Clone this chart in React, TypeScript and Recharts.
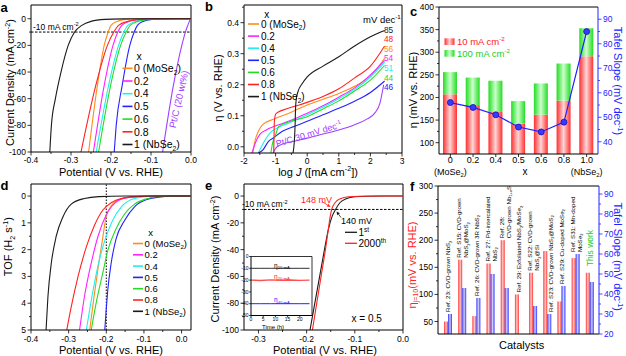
import React from 'react';
import { LineChart, Line, XAxis, YAxis, ReferenceLine, ComposedChart, Bar } from 'recharts';

const FONT = "'Liberation Sans', Arial, Helvetica, sans-serif";
const ORANGE = '#ff8c1a', MAGENTA = '#ff22ff', CYAN = '#22eeee', BLUE = '#2222ff', GREEN = '#22dd22', RED = '#ff2222', BLACK = '#1a1a1a', PURPLE = '#a040ff';

// ---------- shared categories ----------
const compositions = ['0 (MoSe_{2})', '0.2', '0.4', '0.5', '0.6', '0.8', '1 (NbSe_{2})'];
const compColors = [ORANGE, MAGENTA, CYAN, BLUE, GREEN, RED, BLACK];

// ---------- panel a : LSV  [potential V, j mA cm-2] ----------
const aMoSe2 = [[-0.256, -100], [-0.234, -50], [-0.217, -20], [-0.207, -10], [-0.2, -5], [-0.185, -2], [-0.163, -0.5], [-0.13, -0.1], [-0.1, 0], [0, 0]];
const aX02 = [[-0.244, -100], [-0.217, -50], [-0.195, -20], [-0.183, -10], [-0.173, -5], [-0.155, -2], [-0.125, -0.5], [-0.09, -0.1], [-0.05, 0], [0, 0]];
const aX04 = [[-0.237, -100], [-0.206, -50], [-0.181, -20], [-0.168, -10], [-0.158, -5], [-0.138, -2], [-0.108, -0.5], [-0.075, -0.1], [-0.04, 0], [0, 0]];
const aX05 = [[-0.192, -100], [-0.187, -80], [-0.172, -50], [-0.153, -20], [-0.142, -10], [-0.134, -5], [-0.12, -2], [-0.098, -0.5], [-0.07, -0.1], [-0.04, 0], [0, 0]];
const aX06 = [[-0.231, -100], [-0.201, -50], [-0.176, -20], [-0.162, -10], [-0.152, -5], [-0.132, -2], [-0.102, -0.5], [-0.07, -0.1], [-0.035, 0], [0, 0]];
const aX08 = [[-0.275, -100], [-0.238, -50], [-0.209, -20], [-0.193, -10], [-0.181, -5], [-0.158, -2], [-0.125, -0.5], [-0.09, -0.1], [-0.05, 0], [0, 0]];
const aNbSe2 = [[-0.353, -100], [-0.349, -80], [-0.339, -60], [-0.325, -40], [-0.307, -20], [-0.291, -10], [-0.273, -5], [-0.25, -2], [-0.215, -0.5], [-0.17, -0.1], [-0.12, 0], [0, 0]];
const aPtC = [[-0.071, -100], [-0.044, -50], [-0.023, -20], [-0.014, -10], [-0.008, -5], [-0.004, -2], [-0.0015, -0.4], [0, 0]];
const aSeries = [aMoSe2, aX02, aX04, aX05, aX06, aX08, aNbSe2];

// ---------- panel b : Tafel [log J, eta V] ----------
const bMoSe2 = [[-1.72, -0.02], [-1.65, 0.02], [-1.55, 0.049], [-1.4, 0.072], [-1.07, 0.089], [-0.54, 0.11], [0, 0.135], [0.5, 0.153], [1.0, 0.172], [1.5, 0.195], [2.0, 0.228], [2.45, 0.285]];
const bX02 = [[-1.75, -0.02], [-1.65, 0.01], [-1.5, 0.04], [-1.28, 0.055], [-0.76, 0.076], [-0.4, 0.09], [0, 0.108], [0.5, 0.132], [1.0, 0.16], [1.5, 0.19], [2.0, 0.232], [2.45, 0.278]];
const bX04 = [[-1.55, -0.02], [-1.4, 0.01], [-1.18, 0.044], [-0.86, 0.065], [-0.5, 0.08], [0, 0.103], [0.5, 0.128], [1.0, 0.155], [1.5, 0.185], [2.0, 0.225], [2.45, 0.272]];
const bX05 = [[-1.55, -0.02], [-1.4, -0.01], [-1.23, 0.017], [-1.05, 0.03], [-0.8, 0.049], [-0.4, 0.066], [0, 0.082], [0.5, 0.103], [1.0, 0.124], [1.5, 0.147], [2.0, 0.175], [2.45, 0.212]];
const bX06 = [[-1.15, -0.02], [-1.1, 0.01], [-1.0, 0.039], [-0.9, 0.065], [-0.6, 0.08], [0, 0.097], [0.5, 0.122], [1.0, 0.148], [1.5, 0.18], [2.0, 0.215], [2.45, 0.262]];
const bX08 = [[-1.06, -0.02], [-1.05, 0.03], [-1.04, 0.08], [-1.0, 0.105], [-0.9, 0.113], [-0.75, 0.119], [-0.25, 0.135], [0.5, 0.162], [1.0, 0.187], [1.5, 0.222], [2.0, 0.26], [2.45, 0.325]];
const bNbSe2 = [[-0.45, -0.02], [-0.4, 0.03], [-0.38, 0.08], [-0.37, 0.12], [-0.35, 0.15], [-0.3, 0.175], [-0.15, 0.205], [0, 0.225], [0.5, 0.26], [1.0, 0.29], [1.5, 0.325], [2.0, 0.355], [2.45, 0.375]];
const bPtC = [[-1.08, -0.02], [-1.0, -0.005], [-0.85, 0.006], [-0.5, 0.016], [0, 0.028], [0.5, 0.041], [1.0, 0.054], [1.5, 0.071], [1.9, 0.09], [2.15, 0.11], [2.3, 0.14], [2.42, 0.2]];
const bSeries = [bMoSe2, bX02, bX04, bX05, bX06, bX08, bNbSe2];
const bSlopeOrder = [6, 5, 0, 1, 2, 4, 3];

// ---------- panel c : overpotentials & Tafel slopes ----------
const cX = ['0', '0.2', '0.4', '0.5', '0.6', '0.8', '1.0'];
const cXSub = ['(MoSe_{2})', '', '', '', '', '', '(NbSe_{2})'];
const cEta10 = [207, 183, 168, 142, 162, 193, 291];
const cEta100 = [256, 244, 237, 192, 231, 275, 353];
const cTafel = [56, 54, 51, 46, 44, 48, 85];

// ---------- panel d : TOF [potential V, TOF H2 s-1] ----------
const dMoSe2 = [[-0.244, 5], [-0.233, 3.8], [-0.222, 2.7], [-0.211, 1.7], [-0.2, 0.75], [-0.185, 0.33], [-0.16, 0.1], [-0.12, 0.02], [-0.08, 0], [0.025, 0]];
const dX02 = [[-0.271, 5], [-0.258, 3.75], [-0.24, 2.5], [-0.222, 1.5], [-0.2, 0.7], [-0.178, 0.27], [-0.143, 0.05], [-0.1, 0.01], [-0.06, 0], [0.025, 0]];
const dX04 = [[-0.253, 5], [-0.24, 3.9], [-0.222, 2.6], [-0.205, 1.7], [-0.183, 0.9], [-0.16, 0.4], [-0.125, 0.09], [-0.08, 0.01], [-0.04, 0], [0.025, 0]];
const dX05 = [[-0.204, 5], [-0.2, 4.2], [-0.196, 3.5], [-0.187, 2.5], [-0.174, 1.6], [-0.151, 0.9], [-0.125, 0.4], [-0.09, 0.12], [-0.055, 0.03], [-0.02, 0], [0.025, 0]];
const dX06 = [[-0.24, 5], [-0.227, 4.0], [-0.209, 2.85], [-0.196, 2.03], [-0.174, 1.22], [-0.151, 0.66], [-0.125, 0.3], [-0.09, 0.09], [-0.055, 0.01], [-0.02, 0], [0.025, 0]];
const dX08 = [[-0.305, 5], [-0.293, 4.13], [-0.275, 3.0], [-0.253, 1.9], [-0.231, 1.08], [-0.209, 0.52], [-0.187, 0.25], [-0.16, 0.09], [-0.12, 0.02], [-0.07, 0], [0.025, 0]];
const dNbSe2 = [[-0.36, 5], [-0.355, 3.75], [-0.346, 2.5], [-0.333, 1.5], [-0.315, 0.77], [-0.293, 0.3], [-0.258, 0.09], [-0.22, 0.02], [-0.15, 0], [0.025, 0]];
const dSeries = [dMoSe2, dX02, dX04, dX05, dX06, dX08, dNbSe2];

// ---------- panel e : stability ----------
const eFirst = [[-0.193, -100], [-0.183, -80], [-0.173, -60], [-0.163, -40], [-0.155, -25], [-0.147, -15], [-0.14, -10], [-0.131, -5], [-0.118, -2], [-0.1, -0.5], [-0.075, -0.1], [-0.04, 0], [0, 0]];
const e2000 = [[-0.188, -100], [-0.179, -80], [-0.17, -60], [-0.161, -40], [-0.155, -25], [-0.151, -15], [-0.148, -10], [-0.141, -5], [-0.13, -2], [-0.113, -0.5], [-0.09, -0.1], [-0.05, 0], [0, 0]];
const insetTime = [0, 4, 8, 12, 16, 20, 24];
const insetEta10 = [-10, -10, -10, -10, -10, -10, -10];
const insetEta20 = [-20, -20.3, -19.8, -20.1, -19.9, -20.2, -20];
const insetEta40 = [-40, -40, -40, -40, -40, -40, -40];

// ---------- panel f : comparison ----------
const fCatalysts = ['Ref. 23', 'Ref. S15', 'Ref. 26', 'Ref. 27', 'Ref. 28', 'Ref. 29', 'Ref. S22', 'Ref. S23', 'Ref. S29', 'Ref. S31', 'This work'];
const fEta10 = [50, 164, 60, 157, 200, 100, 140, 180, 87, 167, 140];
const fTafel: (number | null)[] = [30, 43, 38, 50, 43, null, 34, 30, 44, 60, 46];
const fLabelLines: string[][] = [
  ['Ref. 23: CVD-grown NbS_{2}'],
  ['Ref. S15: CVD-grown', 'NbS_{2}@MoS_{2}'],
  ['Ref. 26: CVD-grown 3R NbS_{2}'],
  ['Ref. 27: Pd-intercalated', 'NbS_{2}'],
  ['Ref. 28:', 'CVD-grown Nb_{1+x}S_{2}'],
  ['Ref. 29: Exfoliated NbS_{2}/MoSe_{2}'],
  ['Ref. S22: CVD-grown', 'NbS_{2}@Si'],
  ['Ref. S23: CVD-grown NbS_{2}@MoS_{2}'],
  ['Ref. S29: Cu-doped MoSe_{2}'],
  ['Ref. S31: Mn-doped', 'MoSe_{2}'],
  ['This work'],
];
const fLabelOverBlue = ['Ref. S23'];

// ---------- tick values ----------
const potMajor = [-0.4, -0.3, -0.2, -0.1, 0];
const potMinor = [-0.35, -0.25, -0.15, -0.05];
const jMajor = [-100, -80, -60, -40, -20, 0];
const jMinor = [-90, -70, -50, -30, -10];
const logMajor = [-2, -1, 0, 1, 2, 3];
const logMinor = [-1.5, -0.5, 0.5, 1.5, 2.5];
const etaMajor = [0, 0.1, 0.2, 0.3, 0.4];
const etaMinor = [0.05, 0.15, 0.25, 0.35, 0.45];
const cLMajor = [100, 150, 200, 250, 300, 350, 400];
const cLMinor = [125, 175, 225, 275, 325, 375];
const cRMajor = [40, 50, 60, 70, 80, 90];
const cRMinor = [45, 55, 65, 75, 85];
const tofMajor = [0, 1, 2, 3, 4, 5];
const tofMinor = [0.5, 1.5, 2.5, 3.5, 4.5];
const ePotMajor = [-0.3, -0.2, -0.1, 0];
const ePotMinor = [-0.25, -0.15, -0.05];
const fLMajor = [50, 100, 150, 200, 250, 300];
const fLMinor = [75, 125, 175, 225, 275];
const fRMajor = [20, 30, 40, 50, 60, 70, 80, 90];
const fRMinor = [25, 35, 45, 55, 65, 75, 85];
const inXMajor = [0, 5, 10, 15, 20];
const inYMajor = [0, -10, -20, -30, -40, -50];

const F_L: [number, number] = [27, 300];
const F_R: [number, number] = [20, 94];

// ---------- rich text helpers ----------
type Seg = { t: string; k: 'n' | 'sub' | 'sup' | 'it' };
function parseRich(s: string): Seg[] {
  const out: Seg[] = [];
  const re = /([_^*])\{([^}]*)\}/g;
  let last = 0;
  let m: RegExpExecArray | null;
  while ((m = re.exec(s)) !== null) {
    if (m.index > last) out.push({ t: s.slice(last, m.index), k: 'n' });
    out.push({ t: m[2], k: m[1] === '_' ? 'sub' : m[1] === '^' ? 'sup' : 'it' });
    last = m.index + m[0].length;
  }
  if (last < s.length) out.push({ t: s.slice(last), k: 'n' });
  return out;
}
function Spans({ s, fs }: { s: string; fs: number }) {
  let cur = 0;
  return (
    <>
      {parseRich(s).map((g, i) => {
        const target = g.k === 'sup' ? -fs * 0.4 : g.k === 'sub' ? fs * 0.25 : 0;
        const dy = target - cur;
        cur = target;
        const small = g.k === 'sup' || g.k === 'sub';
        return (
          <tspan key={i} dy={dy !== 0 ? dy : undefined} fontSize={small ? fs * 0.65 : fs} fontStyle={g.k === 'it' ? 'italic' : undefined}>
            {g.t}
          </tspan>
        );
      })}
    </>
  );
}
function RText({ x, y, s, fs = 10, fill = '#000', anchor = 'start', angle = 0, bold = false }: any) {
  return (
    <text x={x} y={y} fontSize={fs} fill={fill} textAnchor={anchor} fontWeight={bold ? 'bold' : 'normal'} fontFamily={FONT}
      transform={angle ? `rotate(${angle} ${x} ${y})` : undefined}>
      <Spans s={s} fs={fs} />
    </text>
  );
}
function Arrow({ x1, y1, x2, y2, color }: any) {
  const a = Math.atan2(y2 - y1, x2 - x1);
  const L = 3.5, W = 1.7;
  const bx = x2 - L * Math.cos(a), by = y2 - L * Math.sin(a);
  const px = -Math.sin(a) * W, py = Math.cos(a) * W;
  return (
    <g>
      <line x1={x1} y1={y1} x2={bx} y2={by} stroke={color} strokeWidth={0.8} />
      <polygon points={`${x2},${y2} ${bx + px},${by + py} ${bx - px},${by - py}`} fill={color} />
    </g>
  );
}

// ---------- tick factories ----------
const TFS = 8.5;
const near = (arr: number[], v: number) => arr.some((m) => Math.abs(m - v) < 1e-6);
function bottomTick(majors: number[], fmt: (v: number) => string, fs = TFS, gap = 4) {
  return (p: any) => {
    const v = Number(p.payload.value);
    const mj = near(majors, v);
    const len = fs < 7 ? (mj ? 1.8 : 1) : (mj ? 3.5 : 2);
    return (
      <g>
        <line x1={p.x} x2={p.x} y1={p.y} y2={p.y + len} stroke="#000" strokeWidth={0.8} />
        {mj && <text x={p.x} y={p.y + gap + fs * 0.78} fontSize={fs} textAnchor="middle" fill="#000" fontFamily={FONT}>{fmt(v)}</text>}
      </g>
    );
  };
}
function leftTick(majors: number[], fmt: (v: number) => string, color = '#000', fs = TFS, gap = 5) {
  return (p: any) => {
    const v = Number(p.payload.value);
    const mj = near(majors, v);
    const len = fs < 7 ? (mj ? 1.8 : 1) : (mj ? 3.5 : 2);
    return (
      <g>
        <line x1={p.x} x2={p.x - len} y1={p.y} y2={p.y} stroke={color} strokeWidth={0.8} />
        {mj && <text x={p.x - gap} y={p.y + fs * 0.35} fontSize={fs} textAnchor="end" fill={color} fontFamily={FONT}>{fmt(v)}</text>}
      </g>
    );
  };
}
function rightTick(majors: number[], fmt: (v: number) => string, color = '#000', fs = TFS) {
  return (p: any) => {
    const v = Number(p.payload.value);
    const mj = near(majors, v);
    return (
      <g>
        <line x1={p.x} x2={p.x + (mj ? 3.5 : 2)} y1={p.y} y2={p.y} stroke={color} strokeWidth={0.8} />
        {mj && <text x={p.x + 5} y={p.y + fs * 0.35} fontSize={fs} textAnchor="start" fill={color} fontFamily={FONT}>{fmt(v)}</text>}
      </g>
    );
  };
}
const f1 = (v: number) => v.toFixed(1);
const f0 = (v: number) => String(Math.round(v));

const pts = (arr: number[][]) => arr.map(([x, y]) => ({ x, y }));
const AX = { stroke: '#000', strokeWidth: 1 };
const axBase = { tickSize: 0, tickMargin: 0, tickLine: false, interval: 0 as const, allowDataOverflow: true };

function Abs({ l, t, children }: any) {
  return <div style={{ position: 'absolute', left: l, top: t }}>{children}</div>;
}

// ---------- panels ----------
function PanelA() {
  return (
    <LineChart width={200} height={180} margin={{ top: 5, right: 9, bottom: 0, left: 0 }}>
      <XAxis type="number" dataKey="x" domain={[-0.4, 0]} ticks={[...potMajor, ...potMinor]} height={28} axisLine={AX} tick={bottomTick(potMajor, f1)} {...axBase} />
      <YAxis type="number" domain={[-100, 10.3]} ticks={[...jMajor, ...jMinor]} width={31} axisLine={AX} tick={leftTick(jMajor, f0)} {...axBase} />
      <ReferenceLine y={10.3} stroke="#000" strokeWidth={1} />
      <ReferenceLine x={0} stroke="#000" strokeWidth={1} />
      <ReferenceLine y={-10} stroke="#000" strokeWidth={1} strokeDasharray="2.5 1.5" />
      <Line data={pts(aPtC)} dataKey="y" type="monotone" stroke={PURPLE} strokeWidth={1.1} dot={false} isAnimationActive={false} />
      {aSeries.map((s, i) => (
        <Line key={i} data={pts(s)} dataKey="y" type="monotone" stroke={compColors[i]} strokeWidth={1.1} dot={false} isAnimationActive={false} />
      ))}
    </LineChart>
  );
}

function PanelB() {
  return (
    <LineChart width={215} height={180} margin={{ top: 5, right: 18, bottom: 0, left: 0 }}>
      <XAxis type="number" dataKey="x" domain={[-2, 3]} ticks={[...logMajor, ...logMinor]} height={27} axisLine={AX} tick={bottomTick(logMajor, f0)} {...axBase} />
      <YAxis type="number" domain={[-0.02, 0.457]} ticks={[...etaMajor, ...etaMinor]} width={39} axisLine={AX} tick={leftTick(etaMajor, f1)} {...axBase} />
      <ReferenceLine y={0.457} stroke="#000" strokeWidth={1} />
      <ReferenceLine x={3} stroke="#000" strokeWidth={1} />
      <Line data={pts(bPtC)} dataKey="y" type="monotone" stroke={PURPLE} strokeWidth={1.1} dot={false} isAnimationActive={false} />
      {bSeries.map((s, i) => (
        <Line key={i} data={pts(s)} dataKey="y" type="monotone" stroke={compColors[i]} strokeWidth={1.1} dot={false} isAnimationActive={false} />
      ))}
    </LineChart>
  );
}

const cTable = cX.map((name, i) => ({ name, lo: cEta10[i], hi: cEta100[i] - cEta10[i], tafel: cTafel[i] }));
function cTick(p: any) {
  const i = cX.indexOf(String(p.payload.value));
  return (
    <g>
      <line x1={p.x} x2={p.x} y1={p.y} y2={p.y + 3} stroke="#000" strokeWidth={0.8} />
      <text x={p.x} y={p.y + 9.2} fontSize={9} textAnchor="middle" fontFamily={FONT}>{cX[i]}</text>
      {cXSub[i] && <RText x={p.x} y={p.y + 21} s={cXSub[i]} fs={9} anchor="middle" />}
    </g>
  );
}
function PanelC() {
  return (
    <ComposedChart width={221} height={180} data={cTable} margin={{ top: 7, right: 0, bottom: 0, left: 0 }}>
      <XAxis dataKey="name" type="category" height={26} axisLine={AX} tick={cTick} tickSize={0} tickMargin={0} tickLine={false} interval={0} />
      <YAxis yAxisId="l" type="number" domain={[75, 400]} ticks={[...cLMajor, ...cLMinor]} width={34} axisLine={AX} tick={leftTick(cLMajor, f0)} {...axBase} />
      <YAxis yAxisId="r" orientation="right" type="number" domain={[35, 95]} ticks={[...cRMajor, ...cRMinor]} width={28} axisLine={{ stroke: BLUE, strokeWidth: 1 }} tick={rightTick(cRMajor, f0, BLUE)} {...axBase} />
      <ReferenceLine yAxisId="l" y={400} stroke="#000" strokeWidth={1} />
      <Bar yAxisId="l" dataKey="lo" stackId="s" fill="url(#gRedC)" barSize={14} isAnimationActive={false} />
      <Bar yAxisId="l" dataKey="hi" stackId="s" fill="url(#gGreenC)" barSize={14} isAnimationActive={false} />
      <Line yAxisId="r" dataKey="tafel" type="linear" stroke={BLUE} strokeWidth={1.2} dot={{ r: 3, fill: '#3a3aff', stroke: '#1010b0', strokeWidth: 0.8 }} isAnimationActive={false} />
    </ComposedChart>
  );
}

function PanelD() {
  return (
    <LineChart width={200} height={181} margin={{ top: 9, right: 9, bottom: 0, left: 0 }}>
      <XAxis type="number" dataKey="x" domain={[-0.4, 0.025]} ticks={[...potMajor, ...potMinor]} height={26} axisLine={AX} tick={bottomTick(potMajor, f1, TFS, 5)} {...axBase} />
      <YAxis type="number" reversed domain={[-0.45, 5]} ticks={[...tofMajor, ...tofMinor]} width={31} axisLine={AX} tick={leftTick(tofMajor, f0)} {...axBase} />
      <ReferenceLine y={-0.45} stroke="#000" strokeWidth={1} />
      <ReferenceLine x={0.025} stroke="#000" strokeWidth={1} />
      <ReferenceLine x={-0.2} stroke="#000" strokeWidth={1} strokeDasharray="1.5 1.5" />
      {dSeries.map((s, i) => (
        <Line key={i} data={pts(s)} dataKey="y" type="monotone" stroke={compColors[i]} strokeWidth={1.1} dot={false} isAnimationActive={false} />
      ))}
    </LineChart>
  );
}

function PanelE() {
  return (
    <LineChart width={215} height={181} margin={{ top: 9, right: 17, bottom: 0, left: 0 }}>
      <XAxis type="number" dataKey="x" domain={[-0.33, 0]} ticks={[...ePotMajor, ...ePotMinor]} height={26} axisLine={AX} tick={bottomTick(ePotMajor, f1, TFS, 5)} {...axBase} />
      <YAxis type="number" domain={[-100, 9]} ticks={[...jMajor, ...jMinor]} width={39} axisLine={AX} tick={leftTick(jMajor, f0)} {...axBase} />
      <ReferenceLine y={9} stroke="#000" strokeWidth={1} />
      <ReferenceLine x={0} stroke="#000" strokeWidth={1} />
      <ReferenceLine y={-10} stroke="#000" strokeWidth={1} strokeDasharray="2.5 1.5" />
      <Line data={pts(eFirst)} dataKey="y" type="monotone" stroke={BLACK} strokeWidth={1.1} dot={false} isAnimationActive={false} />
      <Line data={pts(e2000)} dataKey="y" type="monotone" stroke={RED} strokeWidth={1.1} dot={false} isAnimationActive={false} />
    </LineChart>
  );
}

const insetTable = insetTime.map((t, i) => ({ t, a: insetEta10[i], b: insetEta20[i], c: insetEta40[i] }));
function PanelInset() {
  return (
    <LineChart width={80} height={80} data={insetTable} margin={{ top: 6.5, right: 4, bottom: 0, left: 0 }}>
      <XAxis type="number" dataKey="t" domain={[0, 25]} ticks={inXMajor} height={14.5} axisLine={AX} tick={bottomTick(inXMajor, f0, 5, 1.2)} {...axBase} />
      <YAxis type="number" domain={[-50, 0]} ticks={inYMajor} width={15} axisLine={AX} tick={leftTick(inYMajor, f0, '#000', 5, 2.5)} {...axBase} />
      <ReferenceLine y={0} stroke="#000" strokeWidth={0.8} />
      <ReferenceLine x={25} stroke="#000" strokeWidth={0.8} />
      <Line dataKey="a" type="linear" stroke={BLACK} strokeWidth={0.9} dot={false} isAnimationActive={false} />
      <Line dataKey="b" type="linear" stroke="#ff5050" strokeWidth={1.4} dot={false} isAnimationActive={false} />
      <Line dataKey="c" type="linear" stroke={BLUE} strokeWidth={1} dot={false} isAnimationActive={false} />
    </LineChart>
  );
}

const fTable = fCatalysts.map((name, i) => ({ name, idx: i, eta: fEta10[i], tafel: fTafel[i] }));
function FRedShape(p: any) {
  const { x, y, width, height, fill } = p;
  const idx = p.payload && typeof p.payload.idx === 'number' ? p.payload.idx : p.index;
  const bottom = y + height;
  const frac = (fEta10[idx] - F_L[0]) / (F_L[1] - F_L[0]);
  const plotH = frac > 0 ? height / frac : 0;
  const t = fTafel[idx];
  const blueTop = t == null ? Infinity : bottom - ((t - F_R[0]) / (F_R[1] - F_R[0])) * plotH;
  const overBlue = fLabelOverBlue.includes(fCatalysts[idx]);
  const top = overBlue ? blueTop : Math.min(y, blueTop);
  const cx = x + width;
  const lines = fLabelLines[idx];
  const ours = idx === fCatalysts.length - 1;
  let labels: any = null;
  if (ours) {
    labels = <RText x={cx + 3} y={top - 6.5} s={lines[0]} fs={8.5} fill="#22cc22" angle={-90} />;
  } else if (lines.length === 1) {
    labels = <RText x={cx + (overBlue ? 5.5 : 2.3)} y={top - 2} s={lines[0]} fs={6.2} angle={-90} />;
  } else {
    labels = (
      <g>
        <RText x={cx - 1} y={top - 2} s={lines[0]} fs={6.2} angle={-90} />
        <RText x={cx + 6} y={top - 2} s={lines[1]} fs={6.2} angle={-90} />
      </g>
    );
  }
  return (
    <g>
      <rect x={x} y={y} width={width} height={height} fill={fill} />
      {labels}
    </g>
  );
}
function PanelF() {
  return (
    <ComposedChart width={221} height={181} data={fTable} barGap={0} margin={{ top: 11, right: 0, bottom: 0, left: 0 }}>
      <XAxis dataKey="name" type="category" height={22} axisLine={AX} tick={false} tickLine={false} padding={{ left: 3, right: 2 }} />
      <YAxis yAxisId="l" type="number" domain={F_L} ticks={[...fLMajor, ...fLMinor]} width={33} axisLine={AX} tick={leftTick(fLMajor, f0)} {...axBase} />
      <YAxis yAxisId="r" orientation="right" type="number" domain={F_R} ticks={[...fRMajor, ...fRMinor]} width={27} axisLine={{ stroke: BLUE, strokeWidth: 1 }} tick={rightTick(fRMajor, f0, BLUE)} {...axBase} />
      <ReferenceLine yAxisId="l" y={300} stroke="#000" strokeWidth={1} />
      <Bar yAxisId="l" dataKey="eta" fill="url(#gRedF)" barSize={4} shape={FRedShape} isAnimationActive={false} />
      <Bar yAxisId="r" dataKey="tafel" fill="url(#gBlueF)" barSize={4} isAnimationActive={false} />
    </ComposedChart>
  );
}

function Grad({ id, edge, mid }: { id: string; edge: string; mid: string }) {
  return (
    <linearGradient id={id} x1="0" y1="0" x2="1" y2="0">
      <stop offset="0" stopColor={edge} />
      <stop offset="0.5" stopColor={mid} />
      <stop offset="1" stopColor={edge} />
    </linearGradient>
  );
}

function LegendRows({ x0, x1, tx, yc, step, fs }: any) {
  return (
    <g>
      {compositions.map((s, i) => (
        <g key={i}>
          <line x1={x0} x2={x1} y1={yc + i * step} y2={yc + i * step} stroke={compColors[i]} strokeWidth={1.6} />
          <RText x={tx} y={yc + i * step + fs * 0.36} s={s} fs={fs} />
        </g>
      ))}
    </g>
  );
}

const bSlopeY = [29.5, 39.2, 48.8, 58.4, 68, 77.6, 87.2];

function Overlay() {
  return (
    <svg width={626} height={356} style={{ position: 'absolute', left: 0, top: 0, pointerEvents: 'none' }}>
      <defs>
        <Grad id="gRedC" edge="#ff3030" mid="#ffd6d6" />
        <Grad id="gGreenC" edge="#22dd22" mid="#ccffcc" />
        <Grad id="gRedF" edge="#ff3030" mid="#ffcccc" />
        <Grad id="gBlueF" edge="#3030ff" mid="#d0d0ff" />
      </defs>
      {/* panel letters */}
      <RText x={0.5} y={11.5} s="a" fs={13} bold />
      <RText x={205} y={11} s="b" fs={13} bold />
      <RText x={410} y={16} s="c" fs={13} bold />
      <RText x={0.5} y={190} s="d" fs={13} bold />
      <RText x={205} y={190} s="e" fs={13} bold />
      <RText x={410} y={191} s="f" fs={13} bold />

      {/* panel a */}
      <RText x={14} y={82.5} s="Current Density (mA cm^{-2})" fs={11} anchor="middle" angle={-90} />
      <RText x={111} y={175.5} s="Potential (V vs. RHE)" fs={11} anchor="middle" />
      <RText x={33} y={29.5} s="-10 mA cm^{-2}" fs={8.5} />
      <RText x={139} y={59.5} s="x" fs={10.5} anchor="middle" />
      <LegendRows x0={122.5} x1={132.5} tx={134} yc={68.3} step={12.7} fs={10.5} />
      <RText x={182} y={100} s="Pt/C (20 wt%)" fs={9.5} fill={PURPLE} anchor="middle" angle={-77} />

      {/* panel b */}
      <RText x={222} y={88} s="η (V vs. RHE)" fs={11} anchor="middle" angle={-90} />
      <RText x={318} y={175.5} s="log *{J} ([mA cm^{-2}])" fs={11} anchor="middle" />
      <RText x={266.7} y={17.5} s="x" fs={10} anchor="middle" />
      <LegendRows x0={248} x1={259} tx={261} yc={24} step={12.1} fs={10} />
      <RText x={363} y={22.5} s="mV dec^{-1}" fs={9.5} />
      {bSlopeOrder.map((k, i) => (
        <RText key={i} x={384} y={bSlopeY[i] + 3} s={String(cTafel[k])} fs={8.3} fill={compColors[k]} />
      ))}
      <RText x={277} y={147} s="Pt/C 30 mV dec^{-1}" fs={9} fill={PURPLE} angle={-17} />

      {/* panel c */}
      <RText x={417} y={90} s="η (mV vs. RHE)" fs={11} anchor="middle" angle={-90} />
      <RText x={613.5} y={81} s="Tafel Slope (mV dec^{-1})" fs={11} anchor="middle" angle={90} fill={BLUE} />
      <RText x={525} y={175} s="x" fs={10} anchor="middle" />
      <rect x={444.5} y={38.3} width={10} height={6.7} fill="url(#gRedC)" />
      <rect x={444.5} y={50} width={10} height={6.7} fill="url(#gGreenC)" />
      <RText x={457} y={45} s="10 mA cm^{-2}" fs={9.5} fill={RED} />
      <RText x={457} y={56.5} s="100 mA cm^{-2}" fs={9.5} fill="#22cc22" />

      {/* panel d */}
      <RText x={12.5} y={246.7} s="TOF (H_{2} s^{-1})" fs={11} anchor="middle" angle={-90} />
      <RText x={111} y={354} s="Potential (V vs. RHE)" fs={11} anchor="middle" />
      <RText x={150.7} y={235.5} s="x" fs={9.5} anchor="middle" />
      <LegendRows x0={133} x1={143} tx={144.5} yc={243.5} step={11.3} fs={9.5} />

      {/* panel e */}
      <RText x={219} y={259} s="Current Density (mA cm^{-2})" fs={11} anchor="middle" angle={-90} />
      <RText x={325} y={354} s="Potential (V vs. RHE)" fs={11} anchor="middle" />
      <RText x={242} y={207} s="-10 mA cm^{-2}" fs={8.5} />
      <RText x={301} y={202.5} s="148 mV" fs={9} fill={RED} />
      <Arrow x1={322} y1={201.5} x2={330.5} y2={207} color={RED} />
      <RText x={341} y={224} s="140 mV" fs={9} />
      <Arrow x1={341} y1={217.5} x2={336.5} y2={211.5} color={BLACK} />
      <line x1={345} x2={357} y1={232.3} y2={232.3} stroke={BLACK} strokeWidth={1.3} />
      <line x1={345} x2={357} y1={243.3} y2={243.3} stroke={RED} strokeWidth={1.3} />
      <RText x={358.5} y={236} s="1^{st}" fs={10} />
      <RText x={358.5} y={247} s="2000^{th}" fs={10} />
      <RText x={351.5} y={322} s="x = 0.5" fs={10} />
      <RText x={274} y={267.5} s="η_{10 mA}" fs={6.5} />
      <RText x={274} y={278.5} s="η_{20 mA}" fs={6.5} fill={RED} />
      <RText x={274} y={302} s="η_{40 mA}" fs={6.5} fill={BLUE} />
      <RText x={273} y={328.5} s="Time (h)" fs={6} anchor="middle" />

      {/* panel f */}
      <RText x={415.5} y={265} s="η_{j=10}(mV vs. RHE)" fs={11} anchor="middle" angle={-90} fill={RED} />
      <RText x={613.5} y={256.7} s="Tafel Slope (mV dec^{-1})" fs={11} anchor="middle" angle={90} fill={BLUE} />
      <RText x={521.7} y={349} s="Catalysts" fs={11} anchor="middle" />
    </svg>
  );
}

export default function App() {
  return (
    <div style={{ position: 'absolute', left: 0, top: 0, width: 626, height: 356, background: '#fff', fontFamily: FONT, overflow: 'hidden' }}>
      <Abs l={0} t={0}><PanelA /></Abs>
      <Abs l={205} t={0}><PanelB /></Abs>
      <Abs l={405} t={0}><PanelC /></Abs>
      <Abs l={0} t={175}><PanelD /></Abs>
      <Abs l={205} t={175}><PanelE /></Abs>
      <Abs l={405} t={175}><PanelF /></Abs>
      <div style={{ position: 'absolute', left: 251, top: 256.5, width: 61, height: 59, background: '#fff' }} />
      <Abs l={236} t={250}><PanelInset /></Abs>
      <Overlay />
    </div>
  );
}
